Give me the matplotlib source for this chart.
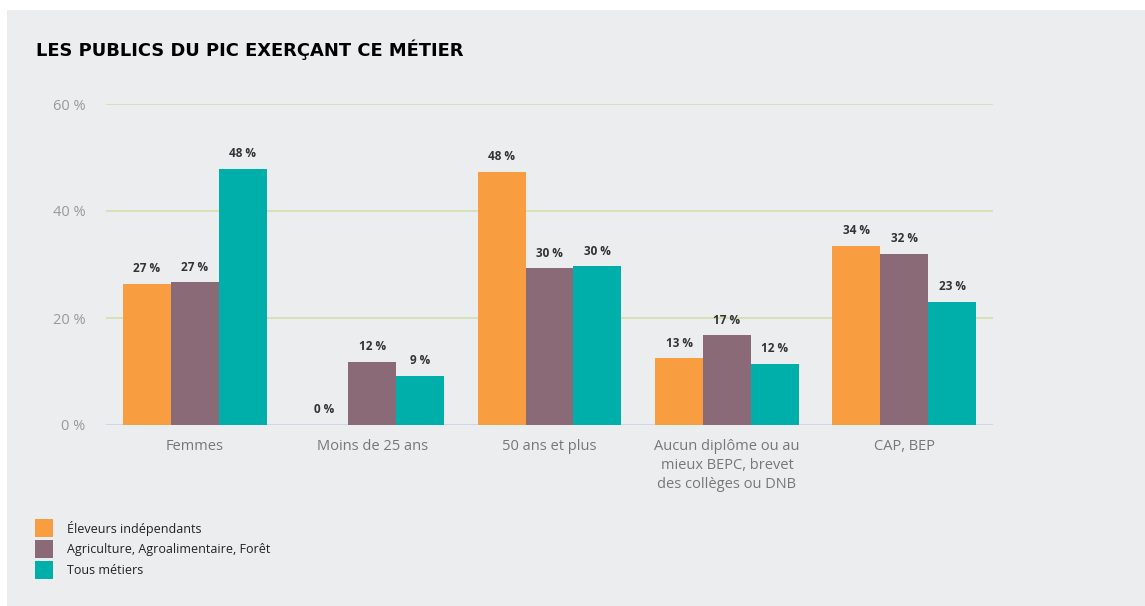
import matplotlib
matplotlib.use("Agg")
import matplotlib.pyplot as plt
from matplotlib.patches import Rectangle
import numpy as np

categories = ["Femmes", "Moins de 25 ans", "50 ans et plus",
              "Aucun diplôme ou au\nmieux BEPC, brevet\ndes collèges ou DNB", "CAP, BEP"]
series_names = ["Éleveurs indépendants", "Agriculture, Agroalimentaire, Forêt", "Tous métiers"]
eleveurs = [26.4, 0.0, 47.3, 12.5, 33.5]
agriculture = [26.7, 11.8, 29.3, 16.8, 32.0]
tous = [47.9, 9.2, 29.7, 11.4, 23.0]
labels_eleveurs = ["27 %", "0 %", "48 %", "13 %", "34 %"]
labels_agriculture = ["27 %", "12 %", "30 %", "17 %", "32 %"]
labels_tous = ["48 %", "9 %", "30 %", "12 %", "23 %"]
yticks = [0, 20, 40, 60]

colors = ["#F89D40", "#8B6A78", "#00AEAA"]
bg = "#ECEDEF"

W, H = 1145, 606
fig = plt.figure(figsize=(W / 100, H / 100), dpi=100)
fig.patch.set_facecolor("white")
fig.patches.append(Rectangle((7 / W, 0), 1 - 7 / W, 1 - 10 / H, transform=fig.transFigure,
                             facecolor=bg, edgecolor="none", zorder=-5))

ax = fig.add_axes([106 / W, (H - 425) / H, (993 - 106) / W, (425 - 104) / H])
ax.set_facecolor("none")
for s in ax.spines.values():
    s.set_visible(False)

x = np.arange(len(categories))
w = 0.27
series = [eleveurs, agriculture, tous]
lbls = [labels_eleveurs, labels_agriculture, labels_tous]
for i, (vals, lab) in enumerate(zip(series, lbls)):
    pos = x + (i - 1) * w
    ax.bar(pos, vals, width=w, color=colors[i], zorder=3)
    for px, v, t in zip(pos, vals, lab):
        ax.text(px, v + 1.6, t, ha="center", va="bottom", fontsize=8.5,
                fontweight="bold", color="#333333", family="Open Sans", zorder=4)

ax.set_xlim(-0.5, 4.5)
ax.set_ylim(0, 60)
ax.set_yticks(yticks)
ax.set_yticklabels([f"{v} %" for v in yticks], fontsize=10.5, color="#999999", family="Open Sans")
ax.set_xticks(x)
ax.set_xticklabels(categories, fontsize=10.5, color="#777777", family="Open Sans", linespacing=1.35)
ax.tick_params(axis="both", length=0)
ax.tick_params(axis="y", pad=15)
ax.tick_params(axis="x", pad=10)
for v in yticks[1:]:
    ax.axhline(v, color="#D3E0B2", linewidth=1.3, zorder=1)
ax.axhline(0, color="#CCD3EC", linewidth=1.3, zorder=2)

fig.text(36 / W, 1 - 50 / H, "LES PUBLICS DU PIC EXERÇANT CE MÉTIER", fontsize=12.9,
         fontweight="bold", color="black", va="center", ha="left", family="DejaVu Sans")

for i, name in enumerate(series_names):
    y0 = 519 + i * 21
    fig.patches.append(Rectangle((35 / W, 1 - (y0 + 18) / H), 18 / W, 18 / H,
                                 transform=fig.transFigure, facecolor=colors[i],
                                 edgecolor="none"))
    fig.text(67 / W, 1 - (y0 + 10) / H, name, fontsize=9, color="#222222",
             va="center", ha="left", family="Open Sans")

fig.savefig("out.png", dpi=100, facecolor=fig.get_facecolor())
